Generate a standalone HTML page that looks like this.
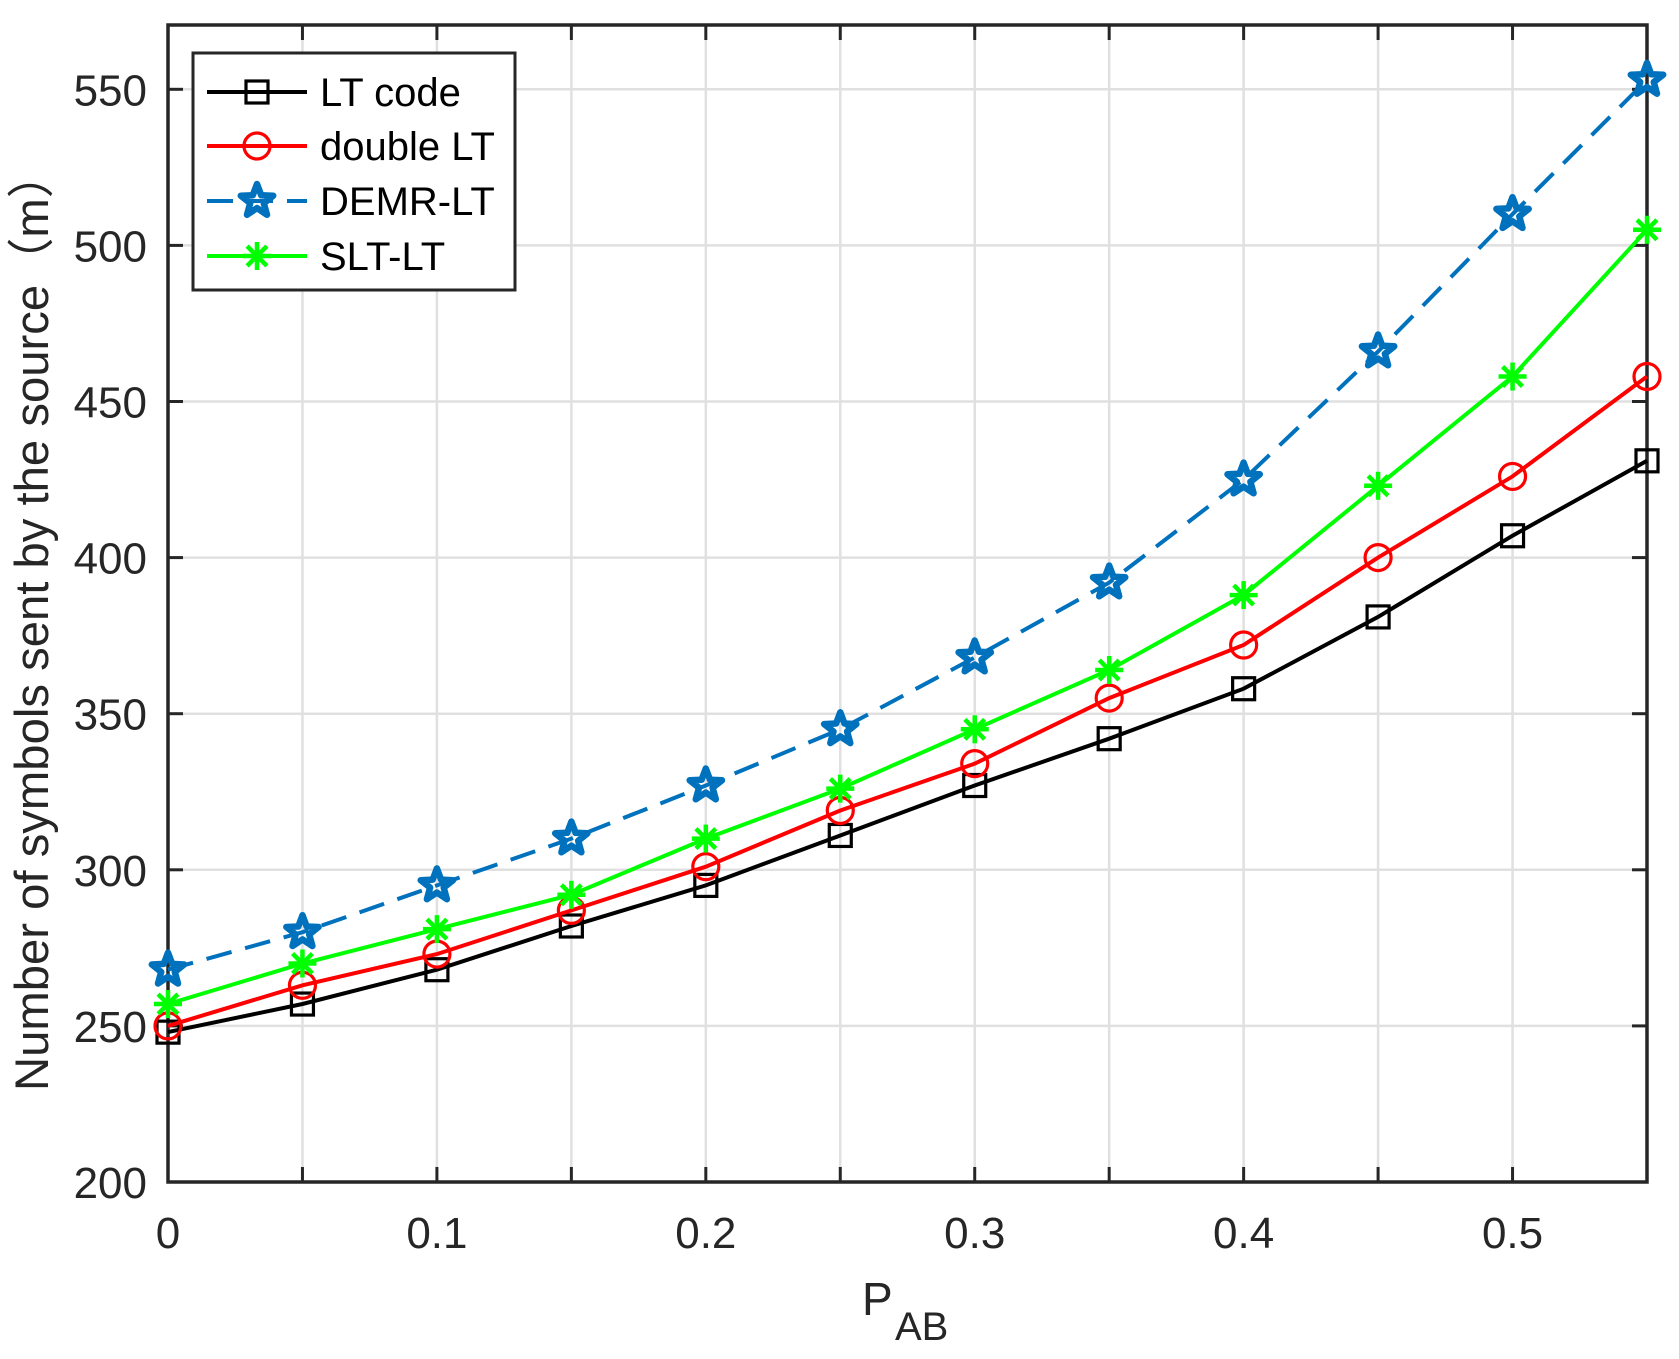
<!DOCTYPE html>
<html><head><meta charset="utf-8"><style>html,body{margin:0;padding:0;background:#fff}svg{display:block}</style></head>
<body>
<svg id="s" width="1679" height="1359" xmlns="http://www.w3.org/2000/svg" font-family="Liberation Sans, Arial, sans-serif"></svg>
<script>
const s=document.getElementById('s');
const X0=168,X1=1647,Y0=1182,YT=25;
const xp=v=>X0+(v/0.55)*(X1-X0);
const yp=v=>Y0-(v-200)/50*156.1;
let h='';
for(let i=0;i<=11;i++){const x=xp(i*0.05);h+=`<line x1="${x}" y1="${YT}" x2="${x}" y2="${Y0}" stroke="#e0e0e0" stroke-width="2.5"/>`;}
for(let v=200;v<=550;v+=50){const y=yp(v);h+=`<line x1="${X0}" y1="${y}" x2="${X1}" y2="${y}" stroke="#e0e0e0" stroke-width="2.5"/>`;}
for(let i=0;i<=11;i++){const x=xp(i*0.05);h+=`<line x1="${x}" y1="${Y0}" x2="${x}" y2="${Y0-15}" stroke="#262626" stroke-width="3"/><line x1="${x}" y1="${YT}" x2="${x}" y2="${YT+15}" stroke="#262626" stroke-width="3"/>`;}
for(let v=200;v<=550;v+=50){const y=yp(v);h+=`<line x1="${X0}" y1="${y}" x2="${X0+15}" y2="${y}" stroke="#262626" stroke-width="3"/><line x1="${X1}" y1="${y}" x2="${X1-15}" y2="${y}" stroke="#262626" stroke-width="3"/>`;
h+=`<text x="147" y="${y+16}" font-size="44" text-anchor="end" fill="#262626">${v}</text>`;}
const xl=['0','0.1','0.2','0.3','0.4','0.5'];
for(let i=0;i<6;i++){h+=`<text x="${xp(i*0.1)}" y="1248" font-size="44" text-anchor="middle" fill="#262626">${xl[i]}</text>`;}
h+=`<rect x="${X0}" y="${YT}" width="${X1-X0}" height="${Y0-YT}" fill="none" stroke="#262626" stroke-width="3.5"/>`;
const LT=[248,257,268,282,295,311,327,342,358,381,407,431];
const DB=[250,263,273,287,301,319,334,355,372,400,426,458];
const DE=[268,280,295,310,327,345,368,392,425,466,510,553];
const SL=[257,270,281,292,310,326,345,364,388,423,458,505];
function star(cx,cy,r,c){let p=[];for(let k=0;k<10;k++){const a=-Math.PI/2+k*Math.PI/5;const rr=k%2?r*0.42:r;p.push((cx+rr*Math.cos(a)).toFixed(1)+','+(cy+rr*Math.sin(a)).toFixed(1));}return `<polygon points="${p.join(' ')}" fill="none" stroke="${c}" stroke-width="6.5" stroke-linejoin="round"/>`;}
function ast(cx,cy,r,c){let o='';for(let k=0;k<4;k++){const a=k*Math.PI/4;o+=`<line x1="${cx-r*Math.cos(a)}" y1="${cy-r*Math.sin(a)}" x2="${cx+r*Math.cos(a)}" y2="${cy+r*Math.sin(a)}" stroke="${c}" stroke-width="4.5"/>`;}return o;}
function mk(t,x,y,c){if(t=='s')return `<rect x="${x-11}" y="${y-11}" width="22" height="22" fill="none" stroke="${c}" stroke-width="3.2"/>`;
if(t=='o')return `<circle cx="${x}" cy="${y}" r="13" fill="none" stroke="${c}" stroke-width="3.2"/>`;
if(t=='p')return star(x,y,17,c);return ast(x,y,14,c);}
function series(d,c,t,dash){const pts=d.map((v,i)=>xp(i*0.05).toFixed(1)+','+yp(v).toFixed(1)).join(' ');
h+=`<polyline points="${pts}" fill="none" stroke="${c}" stroke-width="4" ${dash?'stroke-dasharray="26 14"':''}/>`;
d.forEach((v,i)=>h+=mk(t,xp(i*0.05),yp(v),c));}
series(LT,'#000','s');series(DB,'#ff0000','o');series(DE,'#0072bd','p',true);series(SL,'#00ff00','a');
h+=`<rect x="193" y="53" width="322" height="237" fill="#fff" stroke="#262626" stroke-width="3"/>`;
const L=[['LT code','#000','s',0],['double LT','#ff0000','o',0],['DEMR-LT','#0072bd','p',1],['SLT-LT','#00ff00','a',0]];
const LY=[92,146,201,256];
L.forEach((e,i)=>{const y=LY[i];h+=`<line x1="207" y1="${y}" x2="307" y2="${y}" stroke="${e[1]}" stroke-width="4" ${e[3]?'stroke-dasharray="26 14"':''}/>`;h+=mk(e[2],257,y,e[1]);
h+=`<text x="320" y="${y+14}" font-size="40" fill="#000">${e[0]}</text>`;});
h+=`<text transform="translate(48,621) rotate(-90)" font-size="47" text-anchor="middle" fill="#262626" textLength="940" lengthAdjust="spacingAndGlyphs" font-family="Liberation Sans, Noto Sans CJK SC, sans-serif">Number of symbols sent by the source（m）</text>`;
h+=`<text x="862" y="1315" font-size="46" fill="#262626">P</text><text x="895" y="1340" font-size="40" fill="#262626">AB</text>`;
s.innerHTML=h;
</script>
</body></html>
